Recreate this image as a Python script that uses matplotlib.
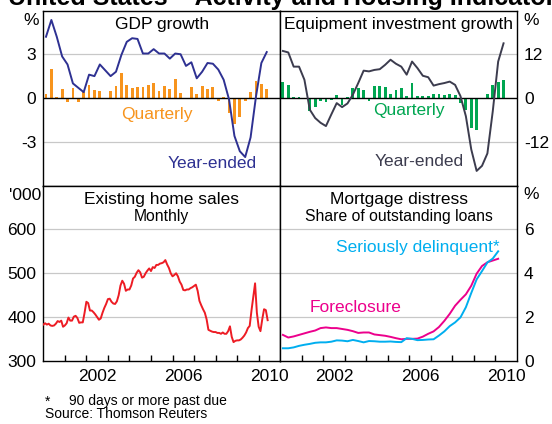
import numpy as np
import matplotlib.pyplot as plt

plt.rcParams['font.family'] = ['Liberation Sans', 'DejaVu Sans']

# quarterly data, 2000Q1 onwards
gdp_q = [0.3, 2.0, 0.05, 0.6, -0.3, 0.7, -0.3, 0.4, 0.9, 0.55, 0.5, 0.0,
         0.45, 0.85, 1.7, 0.9, 0.7, 0.75, 0.75, 0.9, 1.0, 0.45, 0.8, 0.6,
         1.3, 0.35, 0.0, 0.75, 0.25, 0.85, 0.6, 0.75, -0.2, 0.1, -1.0, -1.8,
         -1.3, -0.2, 0.4, 1.2, 0.95, 0.6]
gdp_y = [4.2, 5.35, 4.2, 2.85, 2.3, 1.0, 0.7, 0.4, 1.6, 1.5, 2.3, 1.9,
         1.5, 1.8, 2.95, 3.85, 4.1, 4.05, 3.05, 3.05, 3.35, 3.05, 3.05, 2.7,
         3.05, 3.0, 2.2, 2.45, 1.35, 1.8, 2.4, 2.35, 1.95, 1.25, -0.1, -2.6,
         -3.65, -4.05, -2.7, 0.1, 2.4, 3.15]
equip_q = [4.5, 3.6, 0.4, 0.3, -0.3, -3.6, -2.5, -0.8, -1.0, -0.5, 0.9, -1.9,
           0.3, 2.7, 2.7, 2.1, -0.7, 3.4, 3.4, 3.0, 1.2, 2.3, 2.7, 0.5,
           4.1, 0.6, 0.5, 0.6, 1.2, 1.2, 0.9, 1.2, 0.9, -1.4, -3.2, -8.2,
           -8.8, -0.2, 1.2, 3.6, 4.5, 5.0]
equip_y = [12.9, 12.5, 8.6, 8.6, 5.0, -3.2, -5.5, -6.8, -7.7, -4.5, -1.4, -2.5,
           -1.5, 0.9, 4.1, 7.5, 7.3, 7.7, 7.9, 9.1, 10.5, 9.4, 8.6, 6.4,
           10.0, 8.2, 6.1, 5.7, 3.4, 3.8, 4.1, 4.5, 3.6, 0.5, -5.0, -14.1,
           -20.0, -18.6, -15.2, -3.6, 10.0, 15.0]
foreclosure = [1.19, 1.07, 1.12, 1.19, 1.26, 1.33, 1.39, 1.50, 1.53, 1.50, 1.50,
               1.46, 1.42, 1.36, 1.28, 1.30, 1.30, 1.21, 1.18, 1.15, 1.10, 1.04,
               0.99, 1.01, 1.01, 1.02, 1.11, 1.24, 1.35, 1.55, 1.83, 2.15, 2.52,
               2.79, 3.04, 3.43, 3.98, 4.33, 4.50, 4.58, 4.66]
delinquent = [0.58, 0.58, 0.62, 0.69, 0.74, 0.78, 0.83, 0.85, 0.85, 0.88, 0.94,
              0.93, 0.90, 0.96, 0.91, 0.85, 0.91, 0.90, 0.88, 0.88, 0.89, 0.87,
              0.86, 1.04, 1.01, 0.95, 0.96, 0.98, 0.99, 1.16, 1.35, 1.59, 1.76,
              1.99, 2.45, 3.10, 3.72, 4.10, 4.49, 4.67, 5.00]

# monthly existing home sales ('000), Jan 2000 onwards
home_sales = [383, 386, 383, 385, 381, 380, 381, 385, 391, 389,
              392, 378, 381, 386, 399, 392, 392, 401, 403, 398,
              387, 388, 388, 410, 435, 432, 415, 415, 411, 406,
              400, 394, 397, 410, 421, 430, 441, 442, 435, 431,
              430, 436, 450, 472, 483, 476, 460, 463, 463, 472,
              488, 492, 501, 507, 502, 490, 492, 500, 506, 511,
              505, 514, 512, 519, 519, 522, 523, 525, 530, 520,
              512, 500, 493, 496, 500, 493, 481, 474, 462, 461,
              463, 463, 466, 468, 471, 474, 460, 437, 427, 418,
              410, 395, 371, 369, 367, 366, 366, 364, 364, 362,
              365, 362, 362, 368, 379, 355, 343, 346, 347, 347,
              349, 353, 358, 365, 375, 380, 415, 446, 477, 410,
              378, 368, 395, 418, 416, 393]

year_labels = ['2002', '2006', '2010']

q_dates = 2000.125 + 0.25 * np.arange(len(gdp_q))
m_dates = 2000 + np.arange(len(home_sales)) / 12

orange = '#F7941D'
navy = '#2E3192'
green = '#00A651'
slate = '#3C3C4E'
red = '#ED1C24'
magenta = '#EC008C'
cyan = '#00AEEF'
grid_c = '#C8C8C8'
fs = 12.5

W, H = 552, 424
fig = plt.figure(figsize=(W / 100, H / 100), dpi=100)


def add_panel(x0, y0, x1, y1):
    ax = fig.add_axes([x0 / W, 1 - y1 / H, (x1 - x0) / W, (y1 - y0) / H])
    for s in ax.spines.values():
        s.set_linewidth(1.0)
        s.set_color('black')
    ax.set_xlim(2000, 2011)
    return ax


def ftext(x, y, s, **kw):
    kw.setdefault('fontsize', fs)
    kw.setdefault('va', 'baseline')
    fig.text(x / W, 1 - y / H, s, **kw)


ax1 = add_panel(43.3, 10.5, 280.2, 185.5)
ax2 = add_panel(280.2, 10.5, 517, 185.5)
ax3 = add_panel(43.3, 185.5, 280.2, 361)
ax4 = add_panel(280.2, 185.5, 517, 361)

# GDP growth
ax1.set_ylim(-6, 6)
for v in [-3, 3]:
    ax1.axhline(v, color=grid_c, lw=0.9, zorder=0)
ax1.bar(q_dates, gdp_q, width=0.13, color=orange, zorder=2)
ax1.axhline(0, color='black', lw=1.0, zorder=3)
ax1.plot(q_dates, gdp_y, color=navy, lw=1.4, zorder=4)
ax1.set_yticks([-3, 0, 3])
ax1.set_yticklabels(['-3', '0', '3'])

# Equipment investment growth
ax2.set_ylim(-24, 24)
for v in [-12, 12]:
    ax2.axhline(v, color=grid_c, lw=0.9, zorder=0)
ax2.bar(q_dates, equip_q, width=0.13, color=green, zorder=2)
ax2.axhline(0, color='black', lw=1.0, zorder=3)
ax2.plot(q_dates, equip_y, color=slate, lw=1.4, zorder=4)
ax2.yaxis.tick_right()
ax2.set_yticks([-12, 0, 12])
ax2.set_yticklabels(['-12', '0', '12'])

# Existing home sales
ax3.set_ylim(300, 700)
for v in [400, 500, 600]:
    ax3.axhline(v, color=grid_c, lw=0.9, zorder=0)
ax3.plot(m_dates, home_sales, color=red, lw=1.4, zorder=4)
ax3.set_yticks([300, 400, 500, 600])

# Mortgage distress
ax4.set_ylim(0, 8)
for v in [2, 4, 6]:
    ax4.axhline(v, color=grid_c, lw=0.9, zorder=0)
mq = q_dates[:len(foreclosure)]
ax4.plot(mq, foreclosure, color=magenta, lw=1.4, zorder=4)
ax4.plot(mq, delinquent, color=cyan, lw=1.4, zorder=5)
ax4.yaxis.tick_right()
ax4.set_yticks([0, 2, 4, 6])

for ax in (ax1, ax2, ax3, ax4):
    ax.tick_params(axis='y', length=0, pad=5, labelsize=fs)

for ax in (ax1, ax2):
    ax.set_xticks([])

for ax in (ax3, ax4):
    ax.set_xticks(np.arange(2001, 2011))
    ax.set_xticklabels([])
    ax.tick_params(axis='x', which='major', direction='in', length=4.5, width=1.0)
    ax.set_xticks([2002.5, 2006.5, 2010.5], minor=True)
    ax.set_xticklabels(year_labels, minor=True)
    ax.tick_params(axis='x', which='minor', length=0, pad=6, labelsize=fs)

# panel titles
ftext(161.7, 29, 'GDP growth', ha='center')
ftext(398.6, 29, 'Equipment investment growth', ha='center')
ftext(161.7, 204, 'Existing home sales', ha='center')
ftext(161.7, 221.5, 'Monthly', ha='center', fontsize=11.3)
ftext(398.6, 204, 'Mortgage distress', ha='center')
ftext(398.6, 221.5, 'Share of outstanding loans', ha='center', fontsize=11.3)

# series labels
ftext(156.7, 119, 'Quarterly', ha='center', color=orange)
ftext(212, 168, 'Year-ended', ha='center', color=navy)
ftext(408.7, 115, 'Quarterly', ha='center', color=green)
ftext(419, 166, 'Year-ended', ha='center', color=slate)
ftext(418, 252, 'Seriously delinquent*', ha='center', color=cyan)
ftext(355.3, 312, 'Foreclosure', ha='center', color=magenta)

# units
ftext(31, 25, '%', ha='center')
ftext(531, 25, '%', ha='center')
ftext(41, 200, "'000", ha='right')
ftext(531, 199, '%', ha='center')

# title (cropped at the top edge)
ftext(8, 5, 'United States \u2013 Activity and Housing Indicators',
      fontsize=18, fontweight='bold')

# footnotes
ftext(45, 405.5, '*', fontsize=10)
ftext(69, 405.5, '90 days or more past due', fontsize=10)
ftext(45, 418, 'Source: Thomson Reuters', fontsize=10)

fig.savefig('out.png', dpi=100)
